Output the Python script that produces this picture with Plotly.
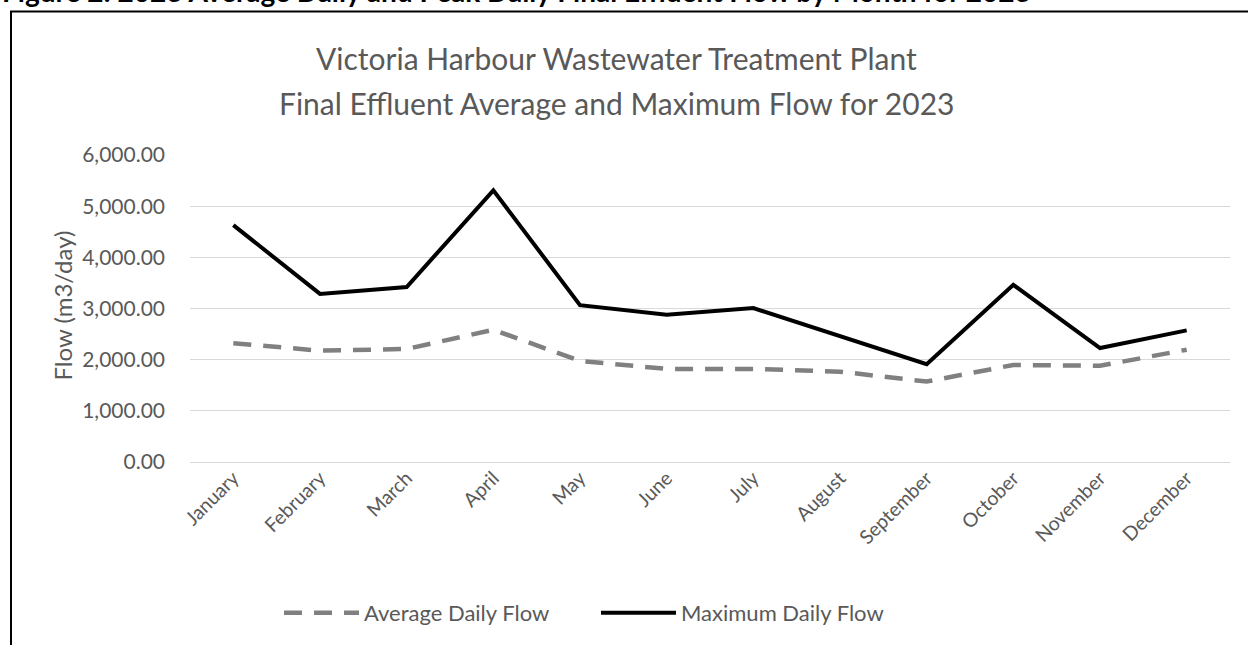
import plotly.graph_objects as go

months = ["January", "February", "March", "April", "May", "June", "July",
          "August", "September", "October", "November", "December"]
avg_flow = [2322, 2176, 2209, 2585, 1975, 1819, 1820, 1766, 1572, 1897, 1880, 2195]
max_flow = [4630, 3285, 3420, 5310, 3066, 2877, 3008, 2460, 1910, 3462, 2228, 2573]
y_ticks = [0, 1000, 2000, 3000, 4000, 5000, 6000]

W, H = 1248, 645
L, R, T, B = 190, 18, 155, 182
PH = H - T - B
PW = W - L - R

def px(x):
    return (x - L) / PW

def py(y):
    return (H - B - y) / PH

FONT = "Lato"
GRAY = "#595959"

fig = go.Figure()
fig.add_trace(go.Scatter(
    x=months, y=avg_flow, mode="lines", name="Average Daily Flow",
    line=dict(color="#808080", width=4.5, dash="18px,12px"),
))
fig.add_trace(go.Scatter(
    x=months, y=max_flow, mode="lines", name="Maximum Daily Flow",
    line=dict(color="#000000", width=4),
))

fig.update_layout(
    width=W, height=H,
    margin=dict(l=L, r=R, t=T, b=B),
    paper_bgcolor="white", plot_bgcolor="white",
    font=dict(family=FONT, color=GRAY, size=16),
    showlegend=True,
    legend=dict(orientation="h", x=px(596), y=py(613), xanchor="center", yanchor="middle",
                font=dict(size=22, color=GRAY), itemwidth=75, entrywidth=227,
                entrywidthmode="pixels", traceorder="normal"),
    xaxis=dict(type="category", range=[-0.5, 11.5], tickangle=-45, showgrid=False,
               showline=False, ticks="", tickfont=dict(size=19.5, color=GRAY)),
    yaxis=dict(range=[0, 6000], tickvals=y_ticks, tickformat=",.2f",
               showgrid=True, gridcolor="#d9d9d9", gridwidth=1.3,
               zeroline=True, zerolinecolor="#d9d9d9", zerolinewidth=1.3,
               showline=False, ticks="", ticklabelstandoff=24,
               tickfont=dict(size=21, color=GRAY)),
)

title_lines = ["Victoria Harbour Wastewater Treatment Plant",
               "Final Effluent Average and Maximum Flow for 2023"]
for txt, yc in zip(title_lines, [58, 103]):
    fig.add_annotation(
        text=txt, xref="paper", yref="paper", x=px(616), y=py(yc),
        xanchor="center", yanchor="middle", showarrow=False,
        font=dict(size=30, color=GRAY, family=FONT),
    )
fig.add_annotation(
    text="Flow (m3/day)", textangle=-90,
    xref="paper", yref="paper", x=px(63), y=py(306), xanchor="center", yanchor="middle",
    showarrow=False, font=dict(size=24, color=GRAY, family=FONT),
)
fig.add_annotation(
    text="<b>Figure 2: 2023 Average Daily and Peak Daily Final Effluent Flow by Month for 2023</b>",
    xref="paper", yref="paper", x=px(0), y=py(10), xanchor="left", yanchor="bottom",
    showarrow=False, font=dict(size=28, color="#000000", family=FONT),
)
fig.add_shape(
    type="rect", xref="paper", yref="paper",
    x0=px(11), x1=px(1262), y0=py(670), y1=py(11),
    line=dict(color="black", width=2), fillcolor="rgba(0,0,0,0)", layer="below",
)

fig.write_html("out.html", config={"displayModeBar": False},
               post_script="document.body.style.margin='0';")
